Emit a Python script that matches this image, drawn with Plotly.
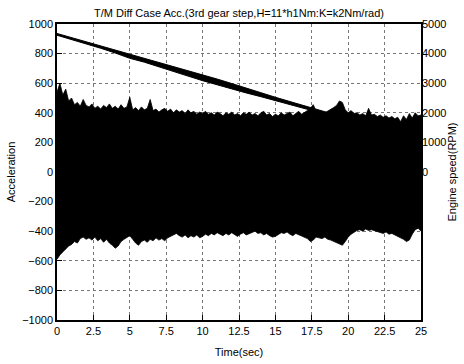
import numpy as np
import plotly.graph_objects as go

# ---- data ----
# acceleration envelope (dense oscillation), sampled every 0.2 s from 0 to 25 s
acc_upper = [
    540, 600, 520, 560, 480, 500, 455, 470, 445, 490,
    450, 440, 460, 430, 445, 425, 450, 435, 460, 430,
    445, 425, 455, 430, 440, 505, 420, 435, 415, 440,
    420, 430, 490, 415, 425, 405, 420, 430, 410, 425,
    400, 420, 405, 415, 395, 420, 400, 410, 390, 405,
    395, 410, 390, 400, 385, 405, 395, 380, 400, 390,
    405, 385, 395, 380, 400, 390, 405, 385, 395, 380,
    400, 410, 385, 395, 375, 390, 380, 400, 385, 395,
    405, 380, 395, 410, 390, 400, 415, 430, 455, 410,
    400, 395, 400, 410, 420, 435, 450, 480, 470, 420,
    400, 415, 395, 400, 385, 395, 380, 430, 385, 390,
    375, 385, 370, 380, 365, 375, 360, 370, 340, 380,
    355, 395, 365, 400, 380, 385,
]
acc_lower = [
    -590, -560, -540, -520, -500, -490, -470, -480, -450, -440,
    -455, -445, -460, -440, -465, -450, -475, -455, -480, -495,
    -515, -500, -470, -455, -440, -430, -455, -480, -495, -470,
    -460, -475, -455, -465, -445, -460, -450, -465, -445, -435,
    -425, -415, -430, -440, -425, -445, -430, -440, -425, -445,
    -435, -420, -430, -415, -425, -410, -420, -430, -415, -425,
    -410, -425, -435, -420, -410, -425, -415, -405, -400, -415,
    -410, -425, -415, -430, -440, -435, -420, -410, -415, -405,
    -420, -430, -415, -425, -430, -440, -450, -470, -460, -440,
    -445, -450, -440, -455, -460, -470, -480, -490, -495, -470,
    -440, -420, -405, -395, -390, -400, -385, -395, -390, -395,
    -400, -410, -415, -405, -420, -415, -425, -430, -440, -455,
    -470, -460, -420, -390, -380, -400,
]
acc_step = 0.2

# engine speed (RPM), sampled every 1 s, and half-width of its oscillation band
engine_time = [0, 1, 2, 3, 4, 5, 6, 7, 8, 9, 10, 11, 12, 13, 14, 15, 16, 17, 18, 19, 20, 21, 22, 23, 24, 25]
engine_speed = [4650, 4510, 4370, 4220, 4070, 3920, 3780, 3630, 3480, 3340, 3190, 3040, 2900,
                2750, 2610, 2470, 2330, 2190, 2050, 1900, 1760, 1620, 1480, 1330, 1190, 1050]
engine_band = [30, 30, 35, 40, 50, 80, 70, 85, 95, 100, 105, 100, 90,
               80, 65, 55, 50, 45, 40, 40, 40, 40, 40, 40, 40, 40]

x_ticks = [0, 2.5, 5, 7.5, 10, 12.5, 15, 17.5, 20, 22.5, 25]
x_tick_text = ["0", "2.5", "5", "7.5", "10", "12.5", "15", "17.5", "20", "22.5", "25"]
y_ticks = [-1000, -800, -600, -400, -200, 0, 200, 400, 600, 800, 1000]
y2_ticks = [0, 1000, 2000, 3000, 4000, 5000]

title = "T/M Diff Case Acc.(3rd gear step,H=11*h1Nm:K=k2Nm/rad)"

# ---- figure ----
acc_time = np.arange(len(acc_upper)) * acc_step
eng_hi = [s + b for s, b in zip(engine_speed, engine_band)]
eng_lo = [s - b for s, b in zip(engine_speed, engine_band)]

fig = go.Figure()
fig.add_trace(go.Scatter(x=acc_time, y=acc_upper, mode="lines",
                         line=dict(color="black", width=0.8), showlegend=False))
fig.add_trace(go.Scatter(x=acc_time, y=acc_lower, mode="lines", fill="tonexty",
                         fillcolor="black", line=dict(color="black", width=0.8),
                         showlegend=False))
fig.add_trace(go.Scatter(x=engine_time, y=eng_hi, mode="lines", yaxis="y2",
                         line=dict(color="black", width=1), showlegend=False))
fig.add_trace(go.Scatter(x=engine_time, y=eng_lo, mode="lines", yaxis="y2", fill="tonexty",
                         fillcolor="black", line=dict(color="black", width=1),
                         showlegend=False))

font = dict(family="Liberation Sans, Arial, sans-serif", size=11, color="black")
fig.update_layout(
    width=464, height=364,
    margin=dict(l=57, r=43, t=24, b=44),
    paper_bgcolor="white", plot_bgcolor="white",
    font=font,
    title=dict(text=title, x=0.5, xref="paper", y=0.965, yref="container",
               xanchor="center", yanchor="middle", font=dict(size=11)),
    xaxis=dict(range=[0, 25], tickvals=x_ticks, ticktext=x_tick_text,
               showgrid=True, gridcolor="#777", griddash="dot", gridwidth=1,
               showline=True, linecolor="black", linewidth=1.5, mirror=True,
               ticks="inside", ticklen=5, tickcolor="black",
               zeroline=False, automargin=False,
               title=dict(text="Time(sec)", standoff=12, font=dict(size=11))),
    yaxis=dict(range=[-1000, 1000], tickvals=y_ticks,
               showgrid=True, gridcolor="#777", griddash="dot", gridwidth=1,
               showline=True, linecolor="black", linewidth=1.5, mirror=True,
               ticks="inside", ticklen=5, tickcolor="black",
               zeroline=False, automargin=False,
               title=dict(text="Acceleration", standoff=4, font=dict(size=11))),
    yaxis2=dict(range=[-5000, 5000], tickvals=y2_ticks, overlaying="y", side="right",
                showgrid=False, showline=False, zeroline=False, ticks="",
                automargin=False,
                title=dict(text="Engine speed(RPM)", standoff=2, font=dict(size=11))),
)

fig.write_html("out.html")
